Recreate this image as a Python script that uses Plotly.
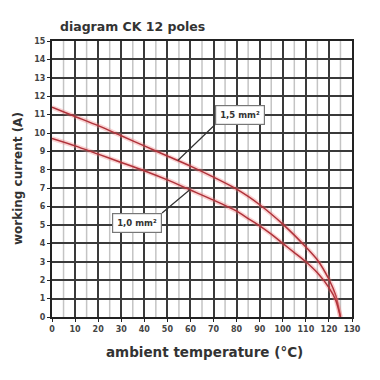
import numpy as np
import plotly.graph_objects as go

# ---- data ----
temps = [0, 10, 20, 30, 40, 50, 60, 70, 80, 85, 90, 95, 100, 105, 110, 115, 120, 123, 125]
current_15 = [11.4, 10.9, 10.4, 9.85, 9.3, 8.75, 8.2, 7.6, 6.95, 6.55, 6.1, 5.6, 5.05, 4.45, 3.8, 3.1, 2.05, 1.15, 0.0]
current_10 = [9.7, 9.3, 8.85, 8.4, 7.95, 7.45, 6.9, 6.35, 5.75, 5.35, 4.95, 4.5, 4.0, 3.5, 3.0, 2.4, 1.6, 0.9, 0.0]
series_names = ["1,5 mm²", "1,0 mm²"]
label_at_temp = [54.5, 59.7]                 # where each pointer touches its curve
label_corner = [(70.6, 10.45), (47.7, 5.65)]  # box corner the pointer attaches to
label_anchor = [("left", "bottom"), ("right", "top")]

x_ticks = list(range(0, 131, 10))
y_ticks = list(range(0, 16, 1))

title_text = "diagram CK 12 poles"
x_title = "ambient temperature (°C)"
y_title = "working current (A)"

FONT = "DejaVu Sans"
fig = go.Figure()

curves = [current_15, current_10]
for name, ys in zip(series_names, curves):
    fig.add_trace(go.Scatter(x=temps, y=ys, mode="lines",
                             line=dict(color="rgba(240,130,130,0.35)", width=4.5, shape="spline", smoothing=0.7),
                             hoverinfo="skip", showlegend=False))
    fig.add_trace(go.Scatter(x=temps, y=ys, mode="lines", name=name,
                             line=dict(color="#b0323a", width=1.5, shape="spline", smoothing=0.7),
                             showlegend=False))

# minor vertical grid (every 5)
for xv in range(5, 130, 10):
    fig.add_shape(type="line", x0=xv, x1=xv, y0=0, y1=15, xref="x", yref="y",
                  line=dict(color="#c4c4c4", width=1.5), layer="below")

for name, ys, t, (bx, by), (xa, ya) in zip(series_names, curves, label_at_temp, label_corner, label_anchor):
    yv = float(np.interp(t, temps, ys))
    fig.add_annotation(x=t, y=yv, ax=bx, ay=by, axref="x", ayref="y", xref="x", yref="y",
                       xanchor=xa, yanchor=ya,
                       text=name, showarrow=True, arrowhead=0, arrowwidth=1.2, arrowcolor="#333",
                       font=dict(family=FONT, size=8.5, color="#333", weight="bold"),
                       bgcolor="white", bordercolor="#777", borderwidth=1.2, borderpad=4)

fig.add_annotation(text=title_text, xref="paper", yref="paper", x=0.02, y=1.054,
                   xanchor="left", yanchor="middle", showarrow=False,
                   font=dict(family=FONT, size=12.5, color="#333", weight="bold"))
fig.add_annotation(text=x_title, xref="paper", yref="paper", x=0.507, y=-0.127,
                   xanchor="center", yanchor="middle", showarrow=False,
                   font=dict(family=FONT, size=13.5, color="#333", weight="bold"))
fig.add_annotation(text=y_title, xref="paper", yref="paper", x=-0.113, y=0.5,
                   xanchor="center", yanchor="middle", showarrow=False, textangle=-90,
                   font=dict(family=FONT, size=12, color="#333", weight="bold"))

# page body has an 8px default margin, so offsets compensate for it
fig.update_layout(
    width=380, height=380,
    margin=dict(l=44, r=36, t=33, b=71),
    plot_bgcolor="white", paper_bgcolor="white",
    showlegend=False,
)
axis_common = dict(showgrid=True, gridcolor="#3a3a3a", gridwidth=1.6,
                   showline=True, linecolor="#222", linewidth=2, mirror=True,
                   ticks="outside", ticklen=3, tickcolor="#222",
                   tickfont=dict(family=FONT, size=8, color="#444", weight="bold"),
                   zeroline=False, fixedrange=True, automargin=False)
fig.update_xaxes(range=[0, 130], tickvals=x_ticks, ticktext=[str(v) for v in x_ticks], **axis_common)
fig.update_yaxes(range=[0, 15], tickvals=y_ticks, ticktext=[str(v) for v in y_ticks], **axis_common)

fig.write_html("out.html")
